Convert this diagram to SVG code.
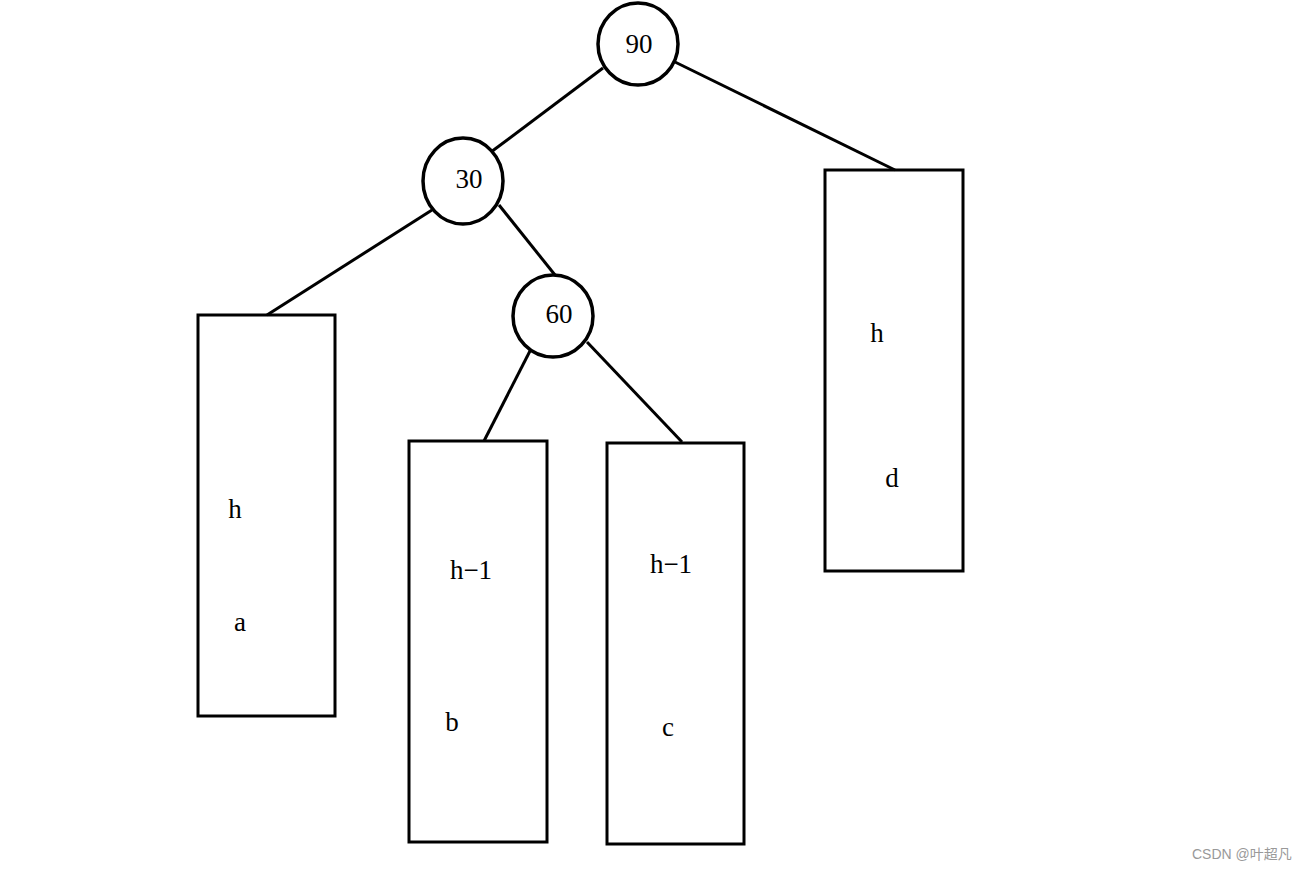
<svg xmlns="http://www.w3.org/2000/svg" width="1307" height="871" viewBox="0 0 1307 871">
<style>
.n{fill:#fff;stroke:#000;stroke-width:3.5}
.b{fill:none;stroke:#000;stroke-width:3}
.e{stroke:#000;stroke-width:3;fill:none}
.t{font-family:"Liberation Serif",serif;font-size:27px;fill:#000;text-anchor:middle;dominant-baseline:central}
.w{font-family:"Liberation Sans","Noto Sans CJK SC",sans-serif;font-size:14px;fill:#999}
</style>
<rect width="1307" height="871" fill="#fff"/>
<g id="edges">
<line class="e" x1="603" y1="68" x2="491" y2="152"/>
<line class="e" x1="675" y1="62" x2="895" y2="170"/>
<line class="e" x1="432" y1="210" x2="267" y2="315"/>
<line class="e" x1="499" y1="205" x2="555" y2="275"/>
<line class="e" x1="531" y1="349" x2="484" y2="441"/>
<line class="e" x1="587" y1="342" x2="682" y2="442"/>
</g>
<g id="n90"><ellipse class="n" cx="638" cy="44" rx="40" ry="41"/><text class="t" x="639" y="44">90</text></g>
<g id="n30"><ellipse class="n" cx="463" cy="181" rx="40" ry="43"/><text class="t" x="469" y="179">30</text></g>
<g id="n60"><ellipse class="n" cx="553" cy="316" rx="40" ry="41"/><text class="t" x="559" y="314">60</text></g>
<g id="boxA"><rect class="b" x="198" y="315" width="137" height="401"/><text class="t" x="235" y="509">h</text><text class="t" x="240" y="622">a</text></g>
<g id="boxB"><rect class="b" x="409" y="441" width="138" height="401"/><text class="t" x="471" y="570">h−1</text><text class="t" x="452" y="722">b</text></g>
<g id="boxC"><rect class="b" x="607" y="443" width="137" height="401"/><text class="t" x="671" y="564">h−1</text><text class="t" x="668" y="727">c</text></g>
<g id="boxD"><rect class="b" x="825" y="170" width="138" height="401"/><text class="t" x="877" y="333">h</text><text class="t" x="892" y="478">d</text></g>
<text class="w" x="1192" y="859">CSDN @叶超凡</text>
</svg>
